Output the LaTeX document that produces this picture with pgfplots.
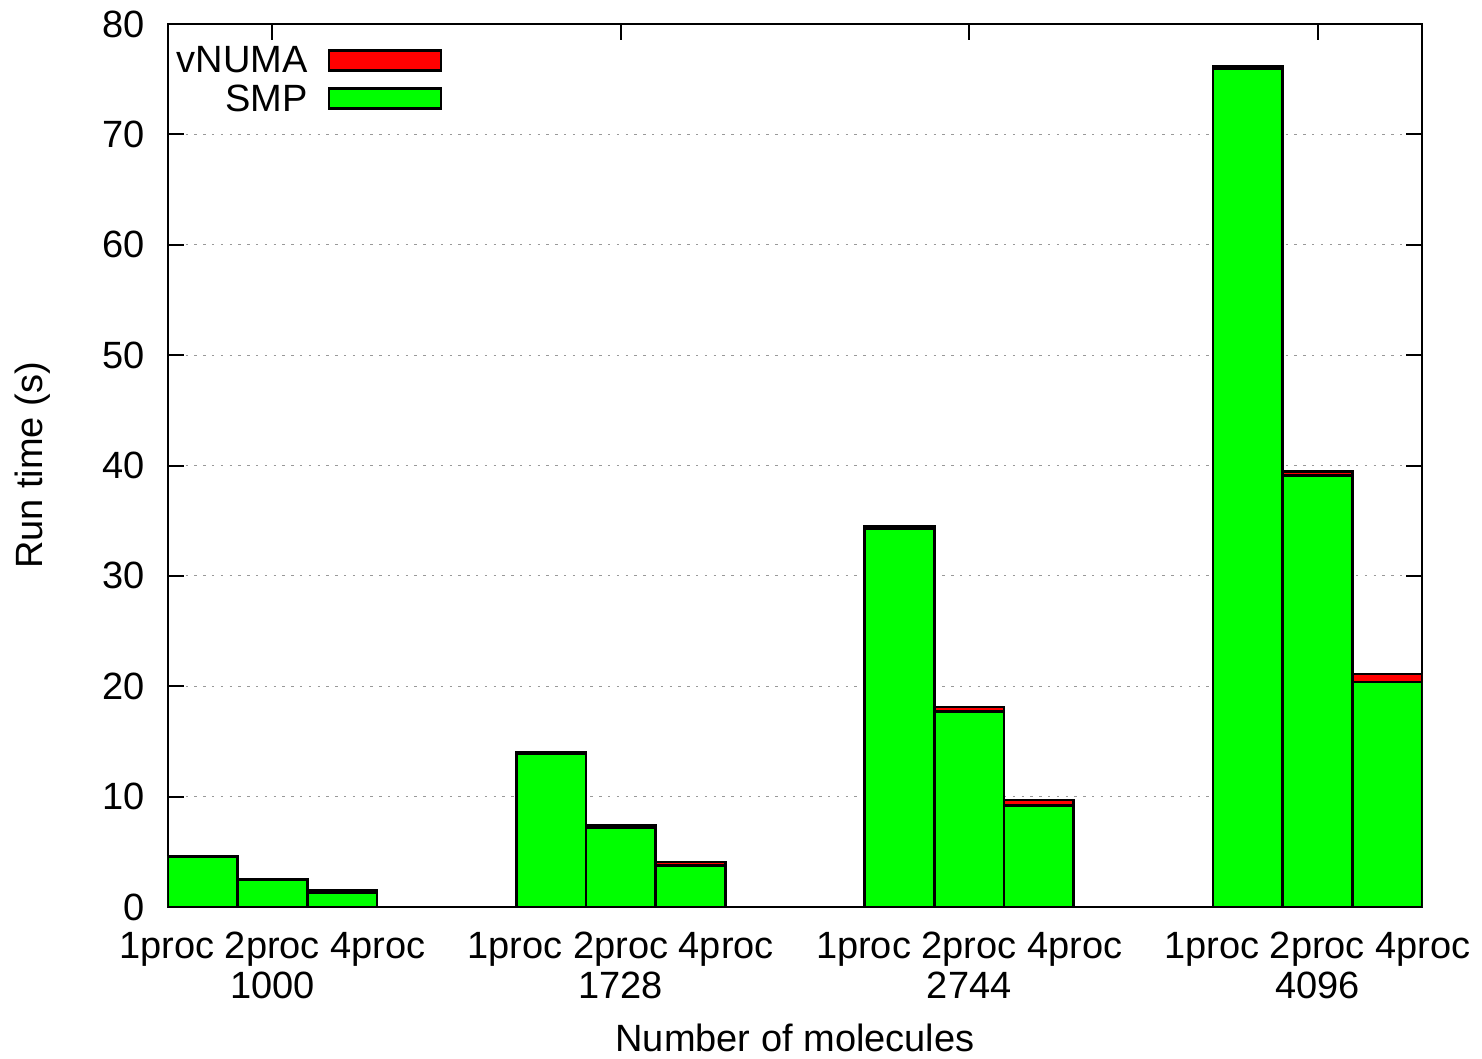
\documentclass[border=0pt]{standalone}
\usepackage{fontspec}
\setmainfont{Liberation Sans}
\usepackage{pgfplots}
\pgfplotsset{compat=1.18}
\definecolor{smpgreen}{RGB}{0,255,0}
\definecolor{numared}{RGB}{255,0,0}
\begin{document}
\fontsize{19}{20}\selectfont
\begin{tikzpicture}
\begin{axis}[
  scale only axis,
  width=627pt, height=441.5pt,
  xmin=0, xmax=18, ymin=0, ymax=80,
  ybar stacked, bar width=1,
  axis line style={line width=1.3pt},
  xtick={1.5,6.5,11.5,16.5},
  xticklabels={{1proc 2proc 4proc\\1000},{1proc 2proc 4proc\\1728},{1proc 2proc 4proc\\2744},{1proc 2proc 4proc\\4096}},
  xticklabel style={align=center, yshift=-6pt, font=\fontsize{19}{20}\selectfont},
  ytick={0,10,...,80},
  yticklabel style={xshift=-5pt, font=\fontsize{19}{20}\selectfont},
  /pgf/number format/assume math mode=true,
  tick align=inside,
  major tick length=8pt,
  tick style={line width=1pt, black},
  xtick pos=both, ytick pos=both,
  ymajorgrids,
  grid style={gray!80, line width=0.6pt, dash pattern=on 1.2pt off 3.2pt},
  ylabel={Run time (s)},
  ylabel style={at={(axis description cs:-0.1077,0.5)}, anchor=center, font=\fontsize{19}{20}\selectfont},
  xlabel={Number of molecules},
  xlabel style={at={(axis description cs:0.5,-0.1642)}, anchor=base, font=\fontsize{19}{20}\selectfont},
  reverse legend,
  legend plot pos=right,
  legend cell align=right,
  legend image code/.code={\draw[#1] (0pt,-5.6pt) rectangle (56pt,4.4pt);},
  legend style={draw=none, fill=none, inner sep=0pt, outer sep=0pt,
    at={(axis description cs:0.2186,0.9757)}, anchor=north east,
    nodes={inner sep=0pt, text height=13.6pt, text depth=0pt, font=\fontsize{19}{20}\selectfont},
    row sep=5.6pt, column sep=10pt},
]
\addplot[fill=smpgreen, draw=black, line width=1.3pt] coordinates {
  (0.5,4.6) (1.5,2.45) (2.5,1.3)
  (5.5,13.85) (6.5,7.15) (7.5,3.77)
  (10.5,34.28) (11.5,17.72) (12.5,9.21)
  (15.5,75.95) (16.5,39.1) (17.5,20.38)};
\addlegendentry{SMP}
\addplot[fill=numared, draw=black, line width=1.3pt] coordinates {
  (0.5,0.02) (1.5,0.08) (2.5,0.2)
  (5.5,0.15) (6.5,0.25) (7.5,0.31)
  (10.5,0.2) (11.5,0.4) (12.5,0.5)
  (15.5,0.2) (16.5,0.38) (17.5,0.73)};
\addlegendentry{vNUMA}
\end{axis}
\pgfresetboundingbox
\path (current axis.south west) ++(-84pt,-76pt) rectangle ++(741pt,529.5pt);
\end{tikzpicture}
\end{document}
